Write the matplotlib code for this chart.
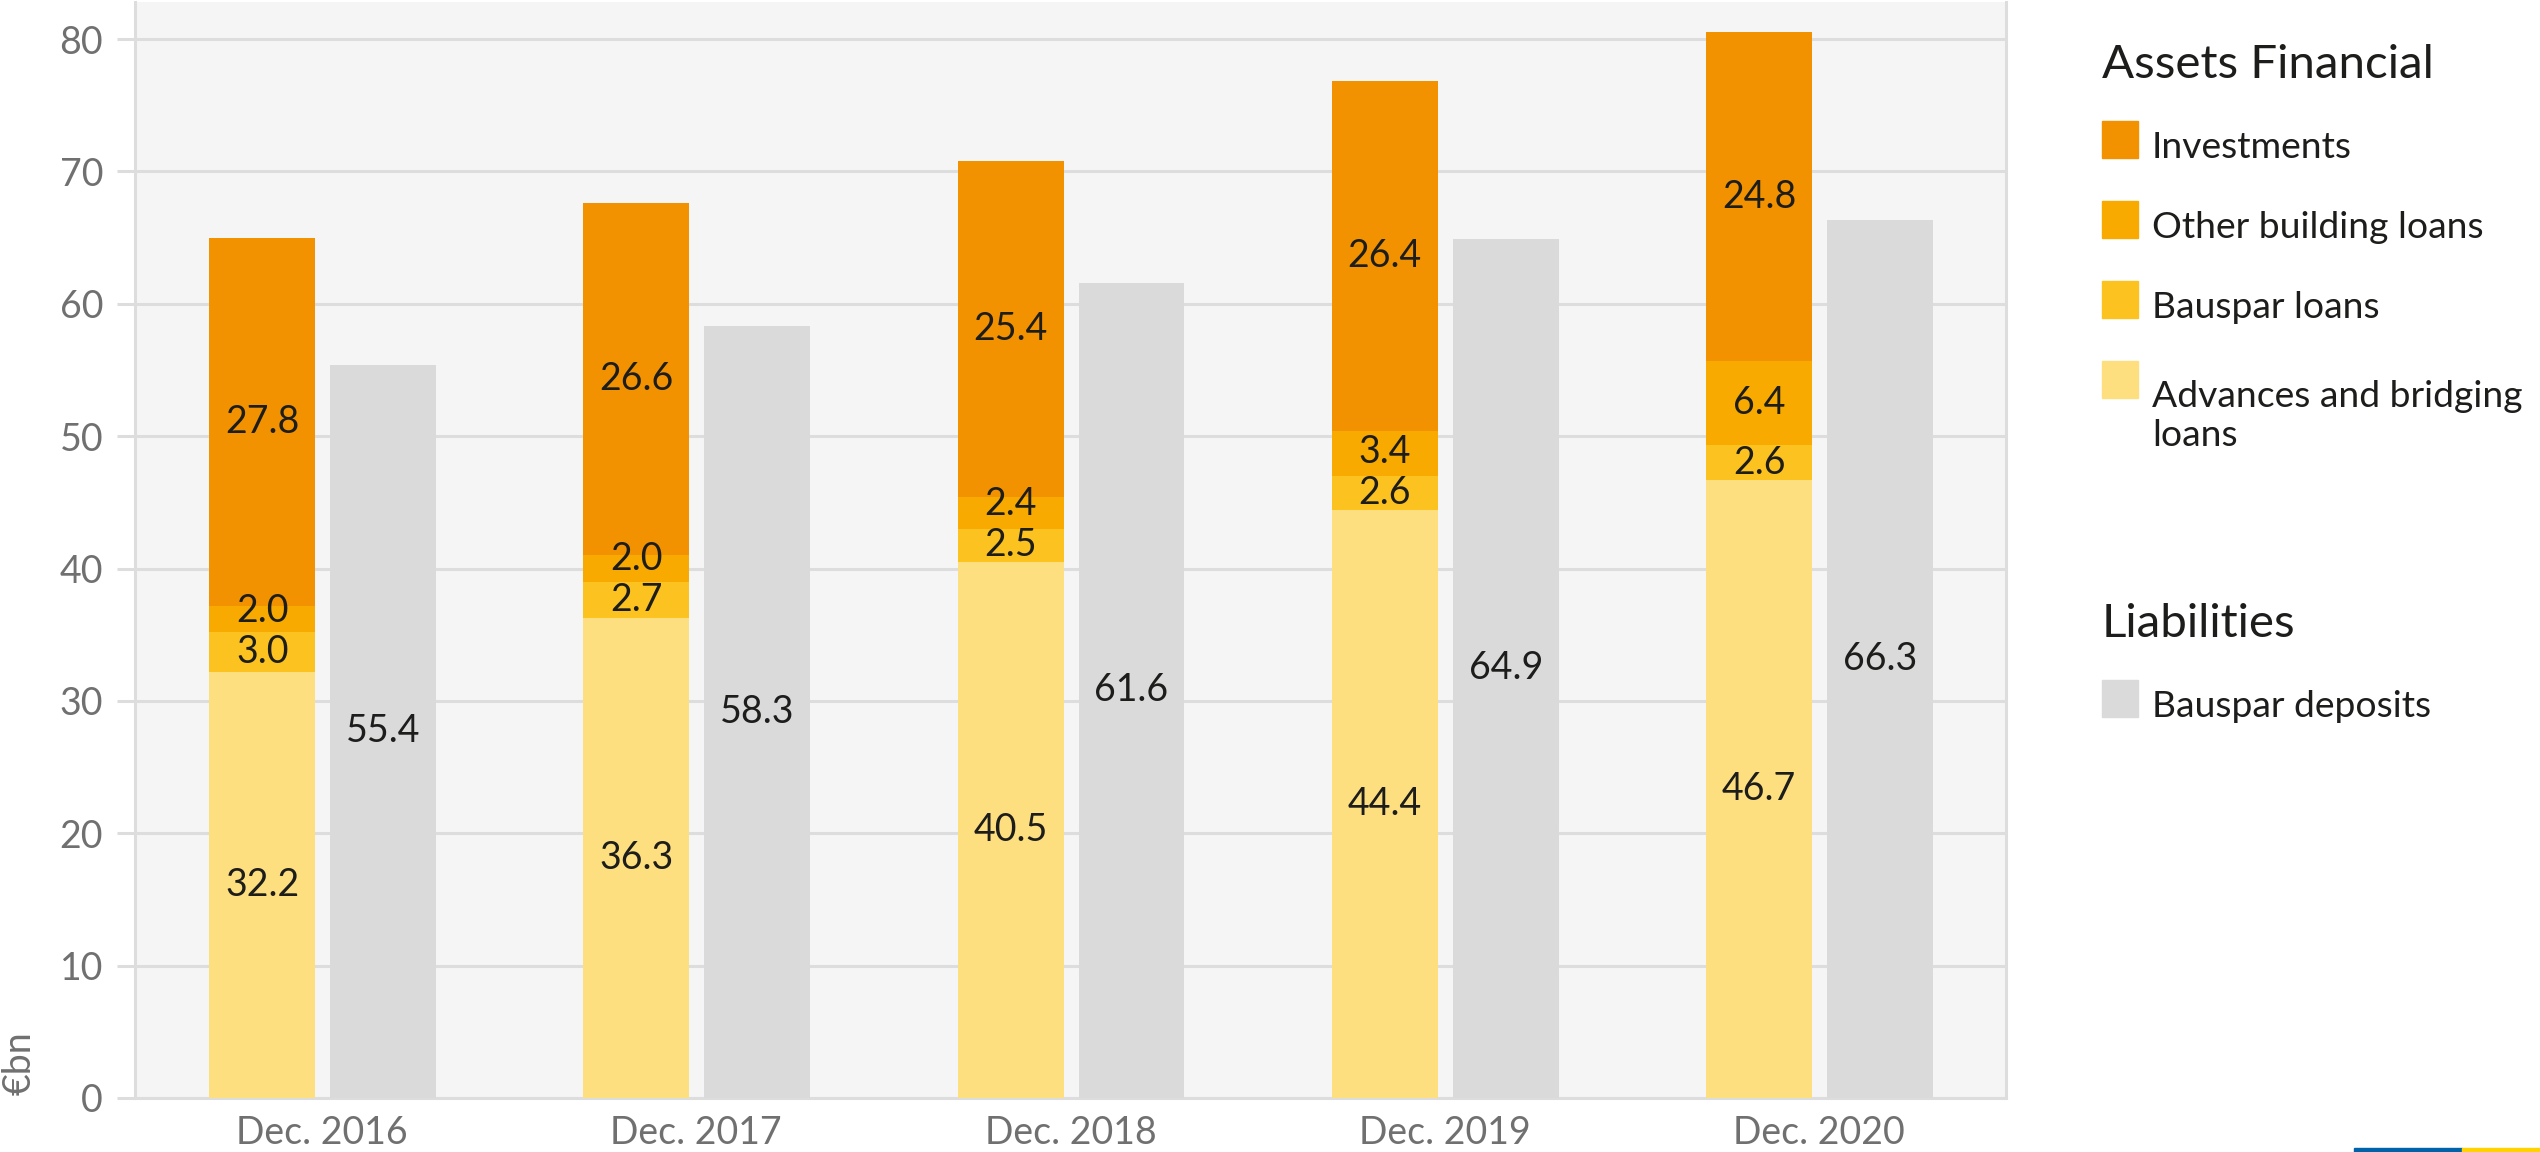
import matplotlib
matplotlib.use("Agg")
import matplotlib.pyplot as plt
import matplotlib.patches as patches
import numpy as np

plt.rcParams['font.family'] = ['Lato', 'DejaVu Sans']

years = ["Dec. 2016", "Dec. 2017", "Dec. 2018", "Dec. 2019", "Dec. 2020"]
advances = [32.2, 36.3, 40.5, 44.4, 46.7]
bauspar_loans = [3.0, 2.7, 2.5, 2.6, 2.6]
other_loans = [2.0, 2.0, 2.4, 3.4, 6.4]
investments = [27.8, 26.6, 25.4, 26.4, 24.8]
deposits = [55.4, 58.3, 61.6, 64.9, 66.3]

asset_names = ["Advances and bridging\nloans", "Bauspar loans", "Other building loans", "Investments"]
asset_colors = ["#fedf80", "#fcc320", "#f8aa00", "#f39200"]
liab_color = "#dadada"

W, H = 2540, 1152
fig = plt.figure(figsize=(W / 100, H / 100), dpi=100)

def fx(px):
    return px / W

def fy(py):
    return 1 - py / H

ax = fig.add_axes([fx(135), fy(1098), fx(2006) - fx(135), fy(2) - fy(1098)])
ax.set_facecolor("#f5f5f5")

x = np.arange(len(years))
bw = 0.283
xa = x - 0.16
xl = x + 0.163

label_kw = dict(ha="center", va="center", fontsize=27, color="#1d1d1b")
min_gap = 3.1

series = [advances, bauspar_loans, other_loans, investments]
bottom = np.zeros(len(years))
last_label = np.full(len(years), -100.0)
for vals, col in zip(series, asset_colors):
    vals = np.array(vals)
    ax.bar(xa, vals, bw, bottom=bottom, color=col, zorder=3)
    for i in range(len(years)):
        yc = bottom[i] + vals[i] / 2
        yc = max(yc, last_label[i] + min_gap)
        last_label[i] = yc
        ax.text(xa[i], yc, f"{vals[i]:.1f}", zorder=4, **label_kw)
    bottom += vals

ax.bar(xl, deposits, bw, color=liab_color, zorder=3)
for i, v in enumerate(deposits):
    ax.text(xl[i], v / 2, f"{v:.1f}", zorder=4, **label_kw)

ax.set_xlim(-0.5, len(years) - 0.5)
ax.set_ylim(0, 82.8)
ax.set_yticks(range(0, 81, 10))
ax.set_xticks(x)
ax.set_xticklabels(years)
ax.yaxis.grid(True, color="#dddddd", linewidth=2.2, zorder=1)
ax.set_axisbelow(True)
ax.tick_params(axis="y", length=13, width=2.2, color="#dddddd", labelsize=27,
               labelcolor="#707070", pad=10)
ax.tick_params(axis="x", length=0, labelsize=27, labelcolor="#707070", pad=12)
for s in ["left", "right", "bottom"]:
    ax.spines[s].set_color("#dddddd")
    ax.spines[s].set_linewidth(2.2)
ax.spines["top"].set_visible(False)

fig.text(fx(20), fy(1063), "€bn", rotation=90, ha="center", va="center",
         fontsize=27, color="#707070")

# legend drawn by hand
sw_x, sw_w, sw_h = 2102, 36, 37
txt_x = 2152
line_gap = 47.5
fig.text(fx(2102), fy(78), "Assets Financial", ha="left", va="baseline",
         fontsize=34.2, color="#1d1d1b")
legend_order = [3, 2, 1, 0]
for k, idx in enumerate(legend_order):
    top = 121 + 80 * k
    p = patches.Rectangle((fx(sw_x), fy(top + sw_h)), fx(sw_w), sw_h / H,
                          color=asset_colors[idx], transform=fig.transFigure)
    fig.add_artist(p)
    nl = asset_names[idx].count("\n")
    fig.text(fx(txt_x), fy(top + sw_h + line_gap * nl), asset_names[idx],
             ha="left", va="baseline", fontsize=26.8, color="#1d1d1b",
             linespacing=1.2)

fig.text(fx(2102), fy(637), "Liabilities", ha="left", va="baseline",
         fontsize=34.2, color="#1d1d1b")
p = patches.Rectangle((fx(sw_x), fy(680 + sw_h)), fx(sw_w), sw_h / H,
                      color=liab_color, transform=fig.transFigure)
fig.add_artist(p)
fig.text(fx(txt_x), fy(680 + sw_h), "Bauspar deposits", ha="left", va="baseline",
         fontsize=26.8, color="#1d1d1b")

# brand strip bottom right
fig.add_artist(patches.Rectangle((fx(2354), 0), fx(108), 4 / H, color="#0062a8",
                                 transform=fig.transFigure))
fig.add_artist(patches.Rectangle((fx(2462), 0), fx(78), 4 / H, color="#ffd200",
                                 transform=fig.transFigure))

fig.savefig("out.png", dpi=100)
